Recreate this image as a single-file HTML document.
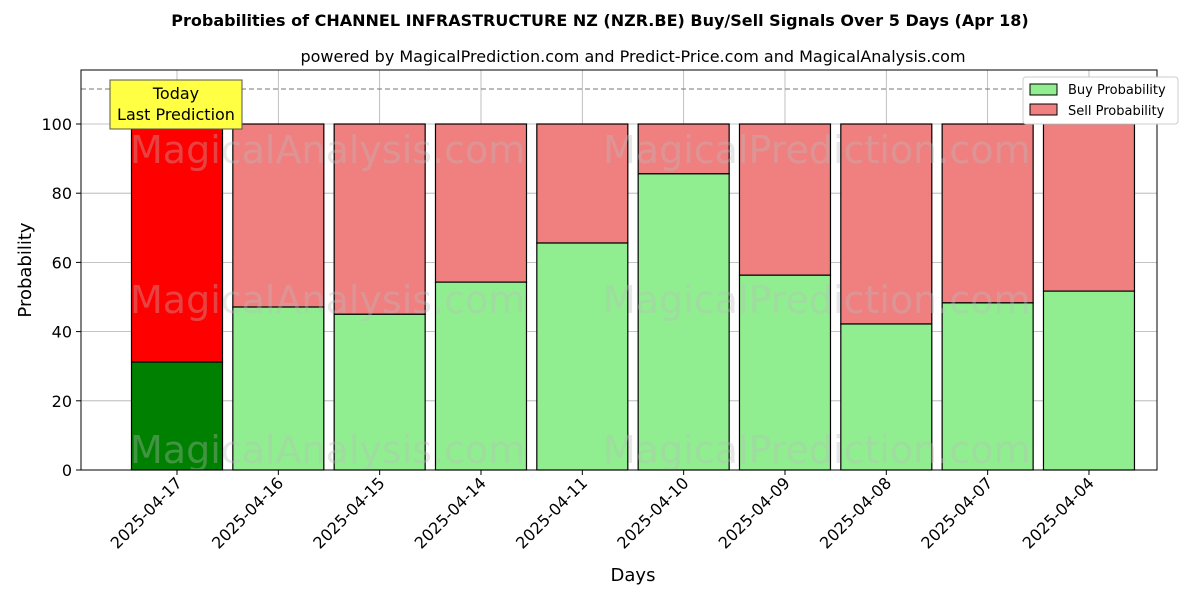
<!DOCTYPE html>
<html><head><meta charset="utf-8"><style>body{margin:0;background:#fff}svg text{font-family:"DejaVu Sans","Liberation Sans",sans-serif}</style></head>
<body>
<svg id="c" width="1200" height="600" xmlns="http://www.w3.org/2000/svg">
<text x="600" y="26" text-anchor="middle" font-size="16" font-weight="bold">Probabilities of CHANNEL INFRASTRUCTURE NZ (NZR.BE) Buy/Sell Signals Over 5 Days (Apr 18)</text>
<text x="633" y="62" text-anchor="middle" font-size="16">powered by MagicalPrediction.com and Predict-Price.com and MagicalAnalysis.com</text>
<g id="grid"></g>
<g id="bars"></g>
<g font-size="38" fill="#bbb" opacity="0.35">
<text x="130" y="163">MagicalAnalysis.com</text><text x="603" y="163">MagicalPrediction.com</text>
<text x="130" y="313">MagicalAnalysis.com</text><text x="603" y="313">MagicalPrediction.com</text>
<text x="130" y="463">MagicalAnalysis.com</text><text x="603" y="463">MagicalPrediction.com</text>
</g>
<line x1="81" x2="1157" y1="89" y2="89" stroke="#777" stroke-dasharray="5,3"/>
<rect x="81" y="70" width="1076" height="400" fill="none" stroke="#000"/>
<g id="axes"></g>
<g>
<rect x="110" y="80" width="132" height="49" fill="#ffff44" stroke="#555"/>
<text x="176" y="99" text-anchor="middle" font-size="16">Today</text>
<text x="176" y="120" text-anchor="middle" font-size="16">Last Prediction</text>
</g>
<g>
<rect x="1023" y="77" width="155" height="47" fill="#fff" stroke="#ccc" rx="3"/>
<rect x="1030" y="84" width="27" height="11" fill="#90ee90" stroke="#000"/>
<text x="1068" y="94" font-size="13">Buy Probability</text>
<rect x="1030" y="104" width="27" height="11" fill="#f08080" stroke="#000"/>
<text x="1068" y="115" font-size="13">Sell Probability</text>
</g>
<text x="633" y="581" text-anchor="middle" font-size="18">Days</text>
<text x="31" y="270" text-anchor="middle" font-size="18" transform="rotate(-90 31 270)">Probability</text>
</svg>
<script>
const categories=["2025-04-17","2025-04-16","2025-04-15","2025-04-14","2025-04-11","2025-04-10","2025-04-09","2025-04-08","2025-04-07","2025-04-04"];
const buyValues=[31.2,47.1,45.0,54.3,65.6,85.6,56.3,42.2,48.3,51.7];
const yTicks=[0,20,40,60,80,100];
const NS="http://www.w3.org/2000/svg";
const xS=i=>177+i*101.33;
const yS=v=>470-v*3.46;
function mk(t,a,p){const e=document.createElementNS(NS,t);for(const k in a)e.setAttribute(k,a[k]);p.appendChild(e);return e;}
const grid=document.getElementById('grid'),bars=document.getElementById('bars'),axes=document.getElementById('axes');
yTicks.forEach(v=>{
 const l=mk('line',{x1:81,x2:1157,y1:yS(v),y2:yS(v),stroke:'#b0b0b0','stroke-width':0.8},grid);
 
 
 mk('line',{x1:76,x2:81,y1:yS(v),y2:yS(v),stroke:'#000'},axes);
 const t=mk('text',{x:72,y:yS(v)+6,'text-anchor':'end','font-size':16},axes);t.textContent=v;
 
 
});
categories.forEach((c,i)=>{
 const x=xS(i),w=91,b=buyValues[i];
 const gl=mk('line',{x1:x,x2:x,y1:70,y2:470,stroke:'#b0b0b0','stroke-width':0.8},grid);
 
 
 const s=mk('rect',{x:x-w/2,y:yS(100),width:w,height:yS(b)-yS(100),fill:i==0?'#ff0000':'#f08080',stroke:'#000','stroke-width':1.2},bars);
 
 
 const r=mk('rect',{x:x-w/2,y:yS(b),width:w,height:470-yS(b),fill:i==0?'#008000':'#90ee90',stroke:'#000','stroke-width':1.2},bars);
 
 
 mk('line',{x1:x,x2:x,y1:470,y2:475,stroke:'#000'},axes);
 const t=mk('text',{x:x+6,y:484,'text-anchor':'end','font-size':16,transform:`rotate(-45 ${x+6} 484)`},axes);t.textContent=c;
 
 
});
</script>
</body></html>
